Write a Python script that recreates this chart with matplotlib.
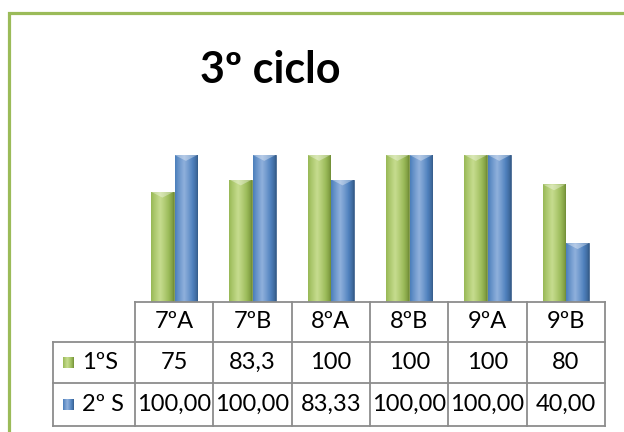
import numpy as np
import matplotlib.pyplot as plt
from matplotlib.colors import LinearSegmentedColormap

turmas = ["7ºA", "7ºB", "8ºA", "8ºB", "9ºA", "9ºB"]
series = ["1ºS", "2º S"]
s1 = [75, 83.3, 100, 100, 100, 80]
s2 = [100.00, 100.00, 83.33, 100.00, 100.00, 40.00]
s1_txt = ["75", "83,3", "100", "100", "100", "80"]
s2_txt = ["100,00", "100,00", "83,33", "100,00", "100,00", "40,00"]

W, H = 624, 432
FONT = "Lato"
FS = 17

green = LinearSegmentedColormap.from_list("g", ["#6f8b35", "#9bbb59", "#c6dc8e"])
blue = LinearSegmentedColormap.from_list("b", ["#345a88", "#4f81bd", "#8fb0dc"])

# horizontal shading profile: dark edges, light a bit left of centre
t = np.linspace(0, 1, 64)
prof = np.clip(1 - np.abs(t - 0.4) / 0.6, 0, 1) ** 0.7
prof = prof[None, :]


def px(l, top, r, b):
    return [l / W, 1 - b / H, (r - l) / W, (b - top) / H]


fig = plt.figure(figsize=(W / 100, H / 100), dpi=100, facecolor="white")

# bars
ax = fig.add_axes(px(135, 155, 605, 302))
ax.axis("off")

x = np.arange(len(turmas))
w = 0.29
for vals, off, cmap, edge in [(s1, -0.15, green, "#6f8b35"), (s2, 0.15, blue, "#385d8a")]:
    bars = ax.bar(x + off, vals, w, color="none", edgecolor=edge, linewidth=0.6)
    for b in bars:
        bx, by = b.get_x(), b.get_y()
        bw, bh = b.get_width(), b.get_height()
        im = ax.imshow(prof, cmap=cmap, extent=[bx, bx + bw, by, by + bh],
                       aspect="auto", vmin=0, vmax=1, zorder=1)
        im.set_clip_path(b)
        # lighter cap at the top
        ax.fill([bx, bx + bw, bx + bw / 2], [by + bh, by + bh, by + bh - 4],
                color="white", alpha=0.35, zorder=3, lw=0)
ax.set_xlim(-0.5, len(turmas) - 0.5)
ax.set_ylim(0, 100)

# overlay in pixel coords for table, title and frame
ov = fig.add_axes([0, 0, 1, 1])
ov.axis("off")

grid = "#8c8c8c"
cols = np.linspace(135, 605, len(turmas) + 1)
rows = [302, 342, 383, 426]
lw = 1.3
ov.plot([135, 605], [rows[0], rows[0]], color=grid, lw=lw)
for yy in rows[1:]:
    ov.plot([53, 605], [yy, yy], color=grid, lw=lw)
for xx in cols:
    ov.plot([xx, xx], [rows[0], rows[3]], color=grid, lw=lw)
ov.plot([53, 53], [rows[1], rows[3]], color=grid, lw=lw)

centers = (cols[:-1] + cols[1:]) / 2
for i in range(len(turmas)):
    ov.text(centers[i], (rows[0] + rows[1]) / 2, turmas[i], ha="center", va="center",
            fontsize=FS, family=FONT)
    ov.text(centers[i], (rows[1] + rows[2]) / 2, s1_txt[i], ha="center", va="center",
            fontsize=FS, family=FONT)
    ov.text(centers[i], (rows[2] + rows[3]) / 2, s2_txt[i], ha="center", va="center",
            fontsize=FS, family=FONT)

for k, (name, cmap) in enumerate([(series[0], green), (series[1], blue)]):
    yc = (rows[k + 1] + rows[k + 2]) / 2
    ov.imshow(prof, cmap=cmap, extent=[63, 74, yc + 5.5, yc - 5.5], aspect="auto",
              vmin=0, vmax=1)
    ov.text(82, yc, name, ha="left", va="center", fontsize=FS, family=FONT)
ov.set_xlim(0, W)
ov.set_ylim(H, 0)

ov.text(270, 70, "3º ciclo", ha="center", va="center", fontsize=31,
        fontweight="bold", family=FONT)

# green frame (right and bottom sides are cut off)
ov.plot([9, 9, W], [H, 13, 13], color="#9bbb59", lw=2.3, solid_joinstyle="miter")

fig.savefig("out.png", dpi=100)
